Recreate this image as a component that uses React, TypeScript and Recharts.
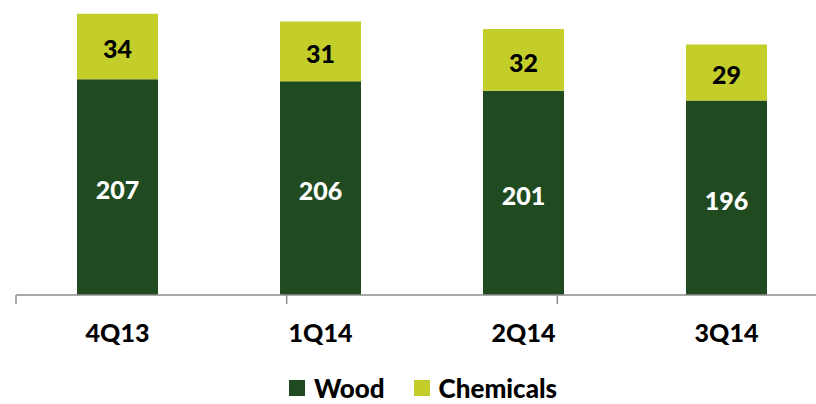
import React from 'react';
import { BarChart, Bar, XAxis, YAxis, Legend, LabelList } from 'recharts';

const quarters = ['4Q13', '1Q14', '2Q14', '3Q14'];
const wood = [207, 206, 201, 196];
const chemicals = [34, 31, 32, 29];

const data = quarters.map((q, i) => ({ name: q, wood: wood[i], chemicals: chemicals[i] }));

const WOOD = '#204a1f';
const CHEM = '#c3ce2a';
const FONT = 'Lato, "Open Sans", sans-serif';
const WEIGHT = 900;

const CHART_W = 830;
const CHART_H = 404;
const LEGEND_H = 40;
const XAXIS_H = 69;
const PLOT_BOTTOM = CHART_H - LEGEND_H - XAXIS_H;

// centre the label on the visible part of the bar (axis does not start at zero)
const makeLabel = (color: string) => (props: any) => {
  const { x, y, width, height, value } = props;
  const top = Math.min(y, y + height);
  const bottom = Math.min(Math.max(y, y + height), PLOT_BOTTOM);
  return (
    <text
      x={x + width / 2}
      y={(top + bottom) / 2 + 2}
      textAnchor="middle"
      dominantBaseline="central"
      fontFamily={FONT}
      fontWeight={WEIGHT}
      fontSize={25}
      fill={color}
    >
      {value}
    </text>
  );
};

const LegendContent = () => (
  <div
    style={{
      height: LEGEND_H,
      display: 'flex',
      justifyContent: 'center',
      alignItems: 'flex-end',
      paddingLeft: 2,
      fontFamily: FONT,
      fontWeight: WEIGHT,
      fontSize: 26,
      color: '#000',
      boxSizing: 'border-box',
      paddingBottom: 4,
    }}
  >
    {[
      { label: 'Wood', color: WOOD },
      { label: 'Chemicals', color: CHEM },
    ].map((it, i) => (
      <div key={it.label} style={{ display: 'flex', alignItems: 'center', marginLeft: i ? 29 : 0 }}>
        <span style={{ width: 16, height: 16, background: it.color, marginRight: 9, display: 'inline-block' }} />
        <span style={{ lineHeight: '24px' }}>{it.label}</span>
      </div>
    ))}
  </div>
);

export default function App() {
  return (
    <div style={{ position: 'absolute', left: 0, top: 0, width: 816, height: 404, overflow: 'hidden', background: '#fff' }}>
      <BarChart
        width={CHART_W}
        height={CHART_H}
        data={data}
        margin={{ top: 6, right: 2, bottom: 0, left: 16 }}
      >
        <XAxis
          xAxisId="bounds"
          type="number"
          domain={[0, 4]}
          ticks={[0, 1, 2, 3, 4]}
          height={1}
          tick={() => <g />}
          tickSize={9}
          tickLine={{ stroke: '#8c8c8c', strokeWidth: 1.5 }}
          axisLine={{ stroke: '#8c8c8c', strokeWidth: 1.5 }}
        />
        <XAxis
          xAxisId="cat"
          dataKey="name"
          height={XAXIS_H - 1}
          axisLine={false}
          tickLine={false}
          tickMargin={22}
          tick={{ fontFamily: FONT, fontWeight: WEIGHT, fontSize: 25, fill: '#000' }}
        />
        <YAxis hide domain={[95, 245]} allowDataOverflow />
        <Legend verticalAlign="bottom" height={LEGEND_H} content={<LegendContent />} />
        <Bar xAxisId="cat" dataKey="wood" stackId="a" fill={WOOD} barSize={81} isAnimationActive={false}>
          <LabelList dataKey="wood" content={makeLabel('#fff')} />
        </Bar>
        <Bar xAxisId="cat" dataKey="chemicals" stackId="a" fill={CHEM} barSize={81} isAnimationActive={false}>
          <LabelList dataKey="chemicals" content={makeLabel('#000')} />
        </Bar>
      </BarChart>
    </div>
  );
}
